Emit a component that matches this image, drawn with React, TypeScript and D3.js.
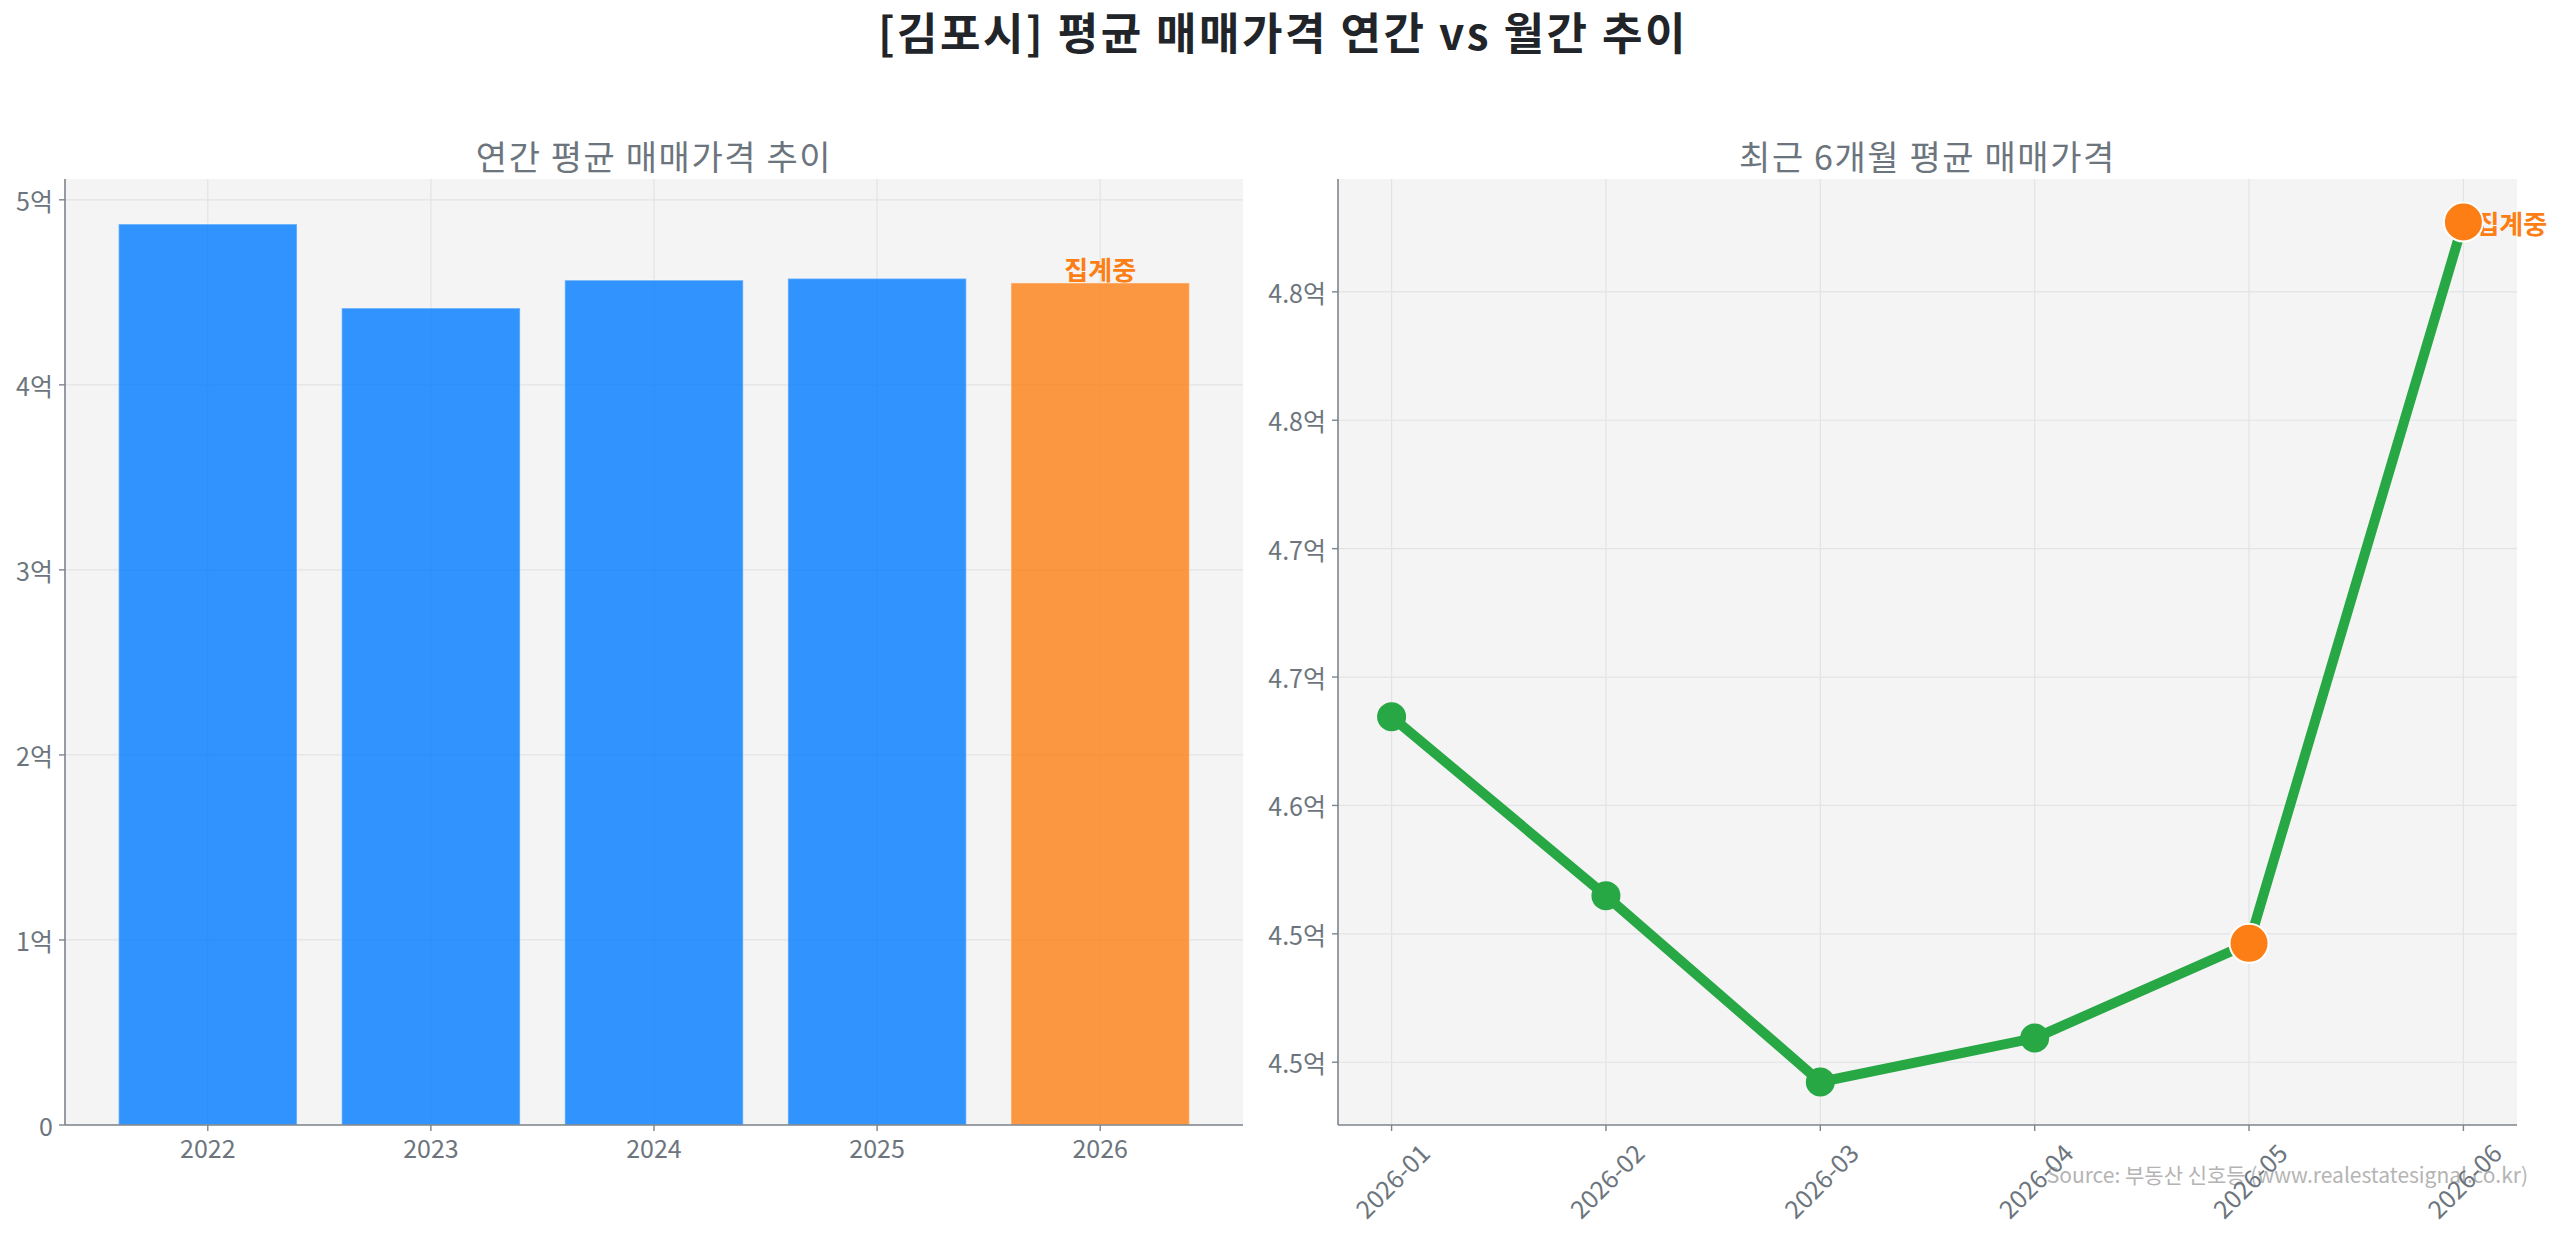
import React from "react";
import * as d3 from "d3";

const years = ["2022", "2023", "2024", "2025", "2026"];
const annualValues = [4.869, 4.415, 4.566, 4.575, 4.551];
const leftTicks = [0, 1, 2, 3, 4, 5];
const leftTickLabels = ["0", "1억", "2억", "3억", "4억", "5억"];

const months = ["2026-01", "2026-02", "2026-03", "2026-04", "2026-05", "2026-06"];
const monthlyValues = [4.6345, 4.5648, 4.4923, 4.5094, 4.5463, 4.8272];
const rightTicks = [4.5, 4.55, 4.6, 4.65, 4.7, 4.75, 4.8];
const rightTickLabels = ["4.5억", "4.5억", "4.6억", "4.7억", "4.7억", "4.8억", "4.8억"];

const pendingYear = "2026";
const pendingMonths = ["2026-05", "2026-06"];

const W = 2560;
const H = 1235;
const FONT = "'Noto Sans CJK KR', 'Noto Sans', sans-serif";
const BG = "#f4f4f4";
const GRID = "#e3e3e3";
const SPINE = "#7d848c";
const TICKTXT = "#6c757d";
const TICKFS = 25;

export default function App() {
  const L = { x0: 65, x1: 1243, y0: 179, y1: 1125 };
  const R = { x0: 1338, x1: 2517, y0: 179, y1: 1125 };

  const xL = d3.scaleBand<string>().domain(years).range([L.x0, L.x1]).paddingInner(0.2).paddingOuter(0.24);
  const yL = d3.scaleLinear().domain([0, (d3.max(annualValues) as number) * 1.05]).range([L.y1, L.y0]);

  const xR = d3.scalePoint<string>().domain(months).range([R.x0, R.x1]).padding(0.25);
  const mn = d3.min(monthlyValues) as number;
  const mx = d3.max(monthlyValues) as number;
  const pad = (mx - mn) * 0.05;
  const yR = d3.scaleLinear().domain([mn - pad, mx + pad]).range([R.y1, R.y0]);

  const line = d3
    .line<number>()
    .x((_, i) => xR(months[i]) as number)
    .y((d) => yR(d));

  const lastIdx = years.indexOf(pendingYear);
  const lastMonthIdx = months.length - 1;

  return (
    <svg width={W} height={H} style={{ display: "block", position: "absolute", left: 0, top: 0, fontFamily: FONT }}>
      <rect x={0} y={0} width={W} height={H} fill="#ffffff" />
      {/* Main title */}
      <text x={1283} y={31} textAnchor="middle" dominantBaseline="central" fontSize={44} fontWeight="bold" fill="#212529" letterSpacing={2.5}>
        [김포시] 평균 매매가격 연간 vs 월간 추이
      </text>

      {/* ---------- Left panel ---------- */}
      <text x={(L.x0 + L.x1) / 2} y={155} textAnchor="middle" dominantBaseline="central" fontSize={34} fill={TICKTXT} letterSpacing={1.6}>
        연간 평균 매매가격 추이
      </text>
      <rect x={L.x0} y={L.y0} width={L.x1 - L.x0} height={L.y1 - L.y0} fill={BG} />
      {leftTicks.map((t) => (
        <line key={"lg" + t} x1={L.x0} x2={L.x1} y1={yL(t)} y2={yL(t)} stroke={GRID} strokeWidth={1.2} />
      ))}
      {years.map((y) => (
        <line key={"lvg" + y} x1={(xL(y) as number) + xL.bandwidth() / 2} x2={(xL(y) as number) + xL.bandwidth() / 2} y1={L.y0} y2={L.y1} stroke={GRID} strokeWidth={1.2} />
      ))}
      {years.map((y, i) => (
        <rect
          key={"bar" + y}
          x={xL(y) as number}
          y={yL(annualValues[i])}
          width={xL.bandwidth()}
          height={yL(0) - yL(annualValues[i])}
          fill={y === pendingYear ? "#fd7e14" : "#007bff"}
          fillOpacity={0.8}
          stroke="#ffffff"
          strokeOpacity={0.35}
          strokeWidth={1.5}
        />
      ))}
      <text
        x={(xL(pendingYear) as number) + xL.bandwidth() / 2}
        y={yL(annualValues[lastIdx]) - 14}
        textAnchor="middle"
        dominantBaseline="central"
        fontSize={26}
        fontWeight="bold"
        fill="#fd7e14"
      >
        집계중
      </text>
      {/* left axes */}
      <line x1={L.x0} x2={L.x0} y1={L.y0} y2={L.y1} stroke={SPINE} strokeWidth={1.6} />
      <line x1={L.x0} x2={L.x1} y1={L.y1} y2={L.y1} stroke={SPINE} strokeWidth={1.6} />
      {leftTicks.map((t, i) => (
        <g key={"lt" + t}>
          <line x1={L.x0 - 6} x2={L.x0} y1={yL(t)} y2={yL(t)} stroke={SPINE} strokeWidth={1.4} />
          <text x={L.x0 - 12} y={yL(t)} textAnchor="end" dominantBaseline="central" fontSize={TICKFS} fill={TICKTXT}>
            {leftTickLabels[i]}
          </text>
        </g>
      ))}
      {years.map((y) => {
        const cx = (xL(y) as number) + xL.bandwidth() / 2;
        return (
          <g key={"lx" + y}>
            <line x1={cx} x2={cx} y1={L.y1} y2={L.y1 + 6} stroke={SPINE} strokeWidth={1.4} />
            <text x={cx} y={1158} textAnchor="middle" fontSize={TICKFS} fill={TICKTXT}>
              {y}
            </text>
          </g>
        );
      })}

      {/* ---------- Right panel ---------- */}
      <text x={(R.x0 + R.x1) / 2} y={155} textAnchor="middle" dominantBaseline="central" fontSize={34} fill={TICKTXT} letterSpacing={1.6}>
        최근 6개월 평균 매매가격
      </text>
      <rect x={R.x0} y={R.y0} width={R.x1 - R.x0} height={R.y1 - R.y0} fill={BG} />
      {rightTicks.map((t) => (
        <line key={"rg" + t} x1={R.x0} x2={R.x1} y1={yR(t)} y2={yR(t)} stroke={GRID} strokeWidth={1.2} />
      ))}
      {months.map((m) => (
        <line key={"rvg" + m} x1={xR(m) as number} x2={xR(m) as number} y1={R.y0} y2={R.y1} stroke={GRID} strokeWidth={1.2} />
      ))}
      <text x={(xR(months[lastMonthIdx]) as number) + 12} y={yR(monthlyValues[lastMonthIdx])} dominantBaseline="central" fontSize={26} fontWeight="bold" fill="#fd7e14">
        집계중
      </text>
      <path d={line(monthlyValues) as string} fill="none" stroke="#28a745" strokeWidth={10} strokeLinejoin="round" />
      {months.map((m, i) =>
        pendingMonths.includes(m) ? (
          <circle key={"pt" + m} cx={xR(m) as number} cy={yR(monthlyValues[i])} r={19.5} fill="#fd7e14" stroke="#ffffff" strokeWidth={2} />
        ) : (
          <circle key={"pt" + m} cx={xR(m) as number} cy={yR(monthlyValues[i])} r={14.5} fill="#28a745" />
        )
      )}
      <line x1={R.x0} x2={R.x0} y1={R.y0} y2={R.y1} stroke={SPINE} strokeWidth={1.6} />
      <line x1={R.x0} x2={R.x1} y1={R.y1} y2={R.y1} stroke={SPINE} strokeWidth={1.6} />
      {rightTicks.map((t, i) => (
        <g key={"rt" + t}>
          <line x1={R.x0 - 6} x2={R.x0} y1={yR(t)} y2={yR(t)} stroke={SPINE} strokeWidth={1.4} />
          <text x={R.x0 - 12} y={yR(t)} textAnchor="end" dominantBaseline="central" fontSize={TICKFS} fill={TICKTXT}>
            {rightTickLabels[i]}
          </text>
        </g>
      ))}
      {/* source */}
      <text x={2528} y={1183} textAnchor="end" fontSize={21} fill="#b4b4b4">
        Source: 부동산 신호등 (www.realestatesignal.co.kr)
      </text>
      {months.map((m) => {
        const cx = xR(m) as number;
        return (
          <g key={"rx" + m}>
            <line x1={cx} x2={cx} y1={R.y1} y2={R.y1 + 6} stroke={SPINE} strokeWidth={1.4} />
            <text
              x={cx}
              y={1180}
              textAnchor="middle"
              dominantBaseline="central"
              fontSize={TICKFS}
              fill={TICKTXT}
              transform={`rotate(-45, ${cx}, 1180)`}
            >
              {m}
            </text>
          </g>
        );
      })}
    </svg>
  );
}
